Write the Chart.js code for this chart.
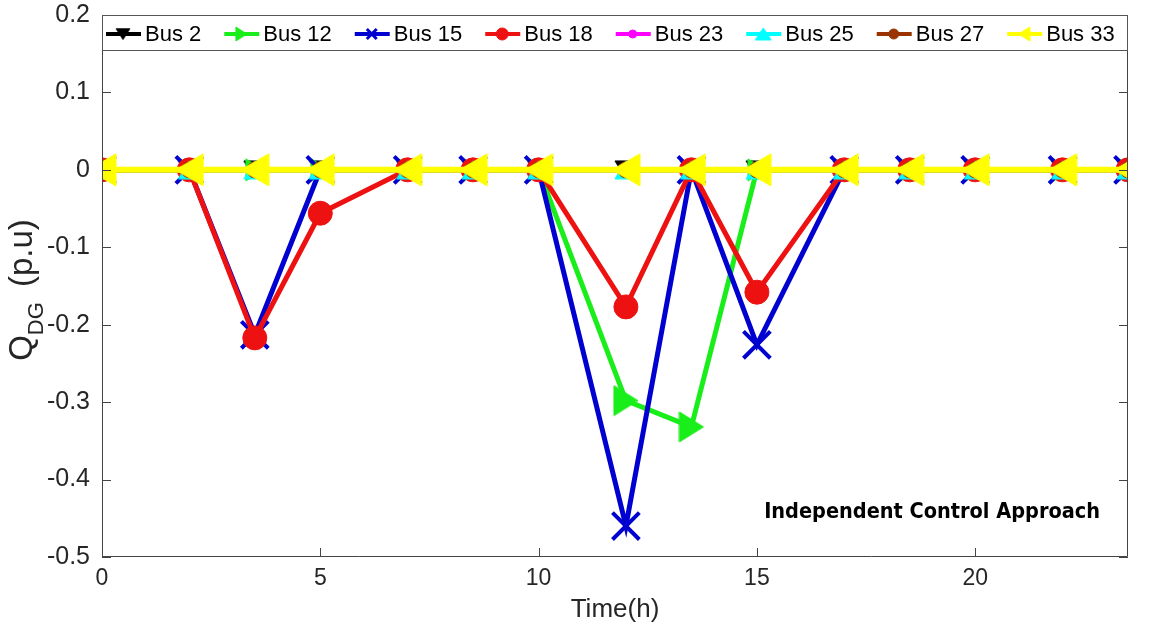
<!DOCTYPE html>
<html>
<head>
<meta charset="utf-8">
<title>Q_DG</title>
<script src="https://cdn.jsdelivr.net/npm/chart.js@4.4.1/dist/chart.umd.min.js"></script>
<style>
  html, body { margin: 0; padding: 0; background: #fff; }
  #wrap { width: 1150px; height: 625px; }
</style>
</head>
<body>
<div id="wrap"><canvas id="qdgChart" width="1150" height="625"></canvas></div>
<script>
// values
const hours = [0, 2, 3.5, 5, 7, 8.5, 10, 12, 13.5, 15, 17, 18.5, 20, 22, 23.5];
const bus2  = [0, 0, 0, 0, 0, 0, 0, 0, 0, 0, 0, 0, 0, 0, 0];
const bus12 = [0, 0, 0, 0, 0, 0, 0, -0.298, -0.332, 0, 0, 0, 0, 0, 0];
const bus15 = [0, 0, -0.213, 0, 0, 0, 0, -0.46, 0, -0.226, 0, 0, 0, 0, 0];
const bus18 = [0, 0, -0.217, -0.056, 0, 0, 0, -0.177, 0, -0.158, 0, 0, 0, 0, 0];
const bus23 = [0, 0, 0, 0, 0, 0, 0, 0, 0, 0, 0, 0, 0, 0, 0];
const bus25 = [0, 0, 0, 0, 0, 0, 0, 0, 0, 0, 0, 0, 0, 0, 0];
const bus27 = [0, 0, 0, 0, 0, 0, 0, 0, 0, 0, 0, 0, 0, 0, 0];
const bus33 = [0, 0, 0, 0, 0, 0, 0, 0, 0, 0, 0, 0, 0, 0, 0];
const seriesNames = ['Bus 2', 'Bus 12', 'Bus 15', 'Bus 18', 'Bus 23', 'Bus 25', 'Bus 27', 'Bus 33'];
const xTicks = [0, 5, 10, 15, 20];
const yTicks = [0.2, 0.1, 0, -0.1, -0.2, -0.3, -0.4, -0.5];

const allValues = [bus2, bus12, bus15, bus18, bus23, bus25, bus27, bus33];

const tickFont = '"Liberation Sans", Arial, sans-serif';
const textColor = '#262626';

function pts(ys) {
    return hours.map((h, i) => ({ x: h, y: ys[i] }));
}

// matlab-like triangle marker: triangle filling its box, box centred on the point
function triMarker(dir, w, h, color) {
    const c = document.createElement('canvas');
    c.width = w + 2;
    c.height = h + 2;
    const g = c.getContext('2d');
    g.translate(1, 1);
    g.fillStyle = color;
    g.strokeStyle = color;
    g.beginPath();
    if (dir === 'right') { g.moveTo(0, 0); g.lineTo(w, h / 2); g.lineTo(0, h); }
    if (dir === 'left')  { g.moveTo(w, 0); g.lineTo(0, h / 2); g.lineTo(w, h); }
    if (dir === 'down')  { g.moveTo(0, 0); g.lineTo(w, 0); g.lineTo(w / 2, h); }
    if (dir === 'up')    { g.moveTo(0, h); g.lineTo(w, h); g.lineTo(w / 2, 0); }
    g.closePath();
    g.fill();
    g.stroke();
    return c;
}

const colors = ['#000000', '#1aee1a', '#0000d0', '#ee1111', '#ff00ff', '#00ffff', '#993300', '#ffff00'];
const lineWidths = [5, 5, 5, 5, 5, 5, 5, 6];

// green markers sitting on the zero line are mostly hidden by the yellow ones
const greenBig = triMarker('right', 24, 30, colors[1]);
const greenSmall = triMarker('right', 18, 22, colors[1]);

const markers = [
    triMarker('down', 22, 18, colors[0]),
    (c) => (c.raw && c.raw.y === 0 ? greenSmall : greenBig),
    'crossRot',
    'circle',
    'circle',
    triMarker('up', 22, 18, colors[5]),
    'circle',
    triMarker('left', 28, 32, colors[7])
];
const legendMarkers = [
    triMarker('down', 14, 11, colors[0]),
    triMarker('right', 11, 14, colors[1]),
    'crossRot',
    'circle',
    'circle',
    triMarker('up', 16, 12, colors[5]),
    'circle',
    triMarker('left', 11, 14, colors[7])
];
const radii = [11, 12, 19, 12, 6, 11, 8, 15];
const legendRadii = [6, 6, 7, 6, 4, 6, 5, 6];
const pointBorders = [1, 1, 4, 1, 1, 1, 1, 1];

// box with inward ticks, legend box, y title and the note
const matlabLook = {
    id: 'matlabLook',
    afterDatasetsDraw(chart) {
        const { ctx, chartArea: a, scales } = chart;
        ctx.save();
        ctx.strokeStyle = '#444';
        ctx.lineWidth = 1;
        ctx.beginPath();
        ctx.rect(a.left + 0.5, a.top + 0.5, a.right - a.left - 1, a.bottom - a.top - 1);
        xTicks.forEach(t => {
            const px = Math.round(scales.x.getPixelForValue(t)) + 0.5;
            ctx.moveTo(px, a.bottom); ctx.lineTo(px, a.bottom - 9);
        });
        yTicks.forEach(t => {
            const py = Math.round(scales.y.getPixelForValue(t)) + 0.5;
            ctx.moveTo(a.left, py); ctx.lineTo(a.left + 9, py);
            ctx.moveTo(a.right, py); ctx.lineTo(a.right - 9, py);
        });
        ctx.stroke();

        // legend box along the top of the axes
        const lTop = a.top + 0.5, lH = 35;
        ctx.fillStyle = '#fff';
        ctx.fillRect(a.left + 1, lTop, a.right - a.left - 2, lH);
        ctx.strokeStyle = '#555';
        ctx.strokeRect(a.left + 0.5, lTop, a.right - a.left - 1, lH);
        ctx.font = '22px ' + tickFont;
        ctx.textBaseline = 'middle';
        ctx.textAlign = 'left';
        let lx = a.left + 4;
        const ly = lTop + lH / 2 + 1;
        chart.data.datasets.forEach((ds, i) => {
            ctx.strokeStyle = colors[i];
            ctx.fillStyle = colors[i];
            ctx.lineWidth = 4;
            ctx.beginPath();
            ctx.moveTo(lx, ly); ctx.lineTo(lx + 35, ly);
            ctx.stroke();
            const m = legendMarkers[i];
            if (typeof m === 'string') {
                ctx.lineWidth = m === 'crossRot' ? 3 : 1;
                Chart.helpers.drawPoint(ctx, {
                    pointStyle: m, rotation: 0, radius: legendRadii[i],
                    borderWidth: m === 'crossRot' ? 3 : 1
                }, lx + 17, ly);
            } else {
                ctx.drawImage(m, lx + 17 - m.width / 2, ly - m.height / 2);
            }
            ctx.fillStyle = '#000';
            ctx.fillText(ds.label, lx + 39, ly + 1);
            lx += 39 + ctx.measureText(ds.label).width + 23;
        });

        // y axis title with subscript
        ctx.fillStyle = textColor;
        ctx.translate(32, 290);
        ctx.rotate(-Math.PI / 2);
        const main = '33px ' + tickFont, sub = '22px ' + tickFont;
        const gap = 6;
        ctx.font = main;
        const wQ = ctx.measureText('Q').width;
        const wRest = ctx.measureText(' (p.u)').width;
        ctx.font = sub;
        const wSub = ctx.measureText('DG').width;
        let tx = -(wQ + wSub + gap + wRest) / 2;
        ctx.textBaseline = 'alphabetic';
        ctx.font = main;
        ctx.fillText('Q', tx, 0);
        tx += wQ;
        ctx.font = sub;
        ctx.fillText('DG', tx, 11);
        tx += wSub + gap;
        ctx.font = main;
        ctx.fillText(' (p.u)', tx, 0);
        ctx.restore();

        // annotation
        ctx.save();
        ctx.font = 'bold 21.5px "DejaVu Sans Condensed", "DejaVu Sans", sans-serif';
        ctx.fillStyle = '#000';
        ctx.textAlign = 'right';
        ctx.textBaseline = 'alphabetic';
        ctx.fillText('Independent Control Approach', 1100, 518);
        ctx.restore();
    }
};

document.addEventListener('DOMContentLoaded', (event) => {
    let ctx = document.getElementById('qdgChart').getContext('2d');
    let datasets = seriesNames.map((name, i) => ({
        label: name,
        data: pts(allValues[i]),
        borderColor: colors[i],
        backgroundColor: colors[i],
        borderWidth: lineWidths[i],
        pointStyle: markers[i],
        pointRadius: radii[i],
        pointHoverRadius: radii[i],
        pointBorderWidth: pointBorders[i],
        pointBorderColor: colors[i],
        pointBackgroundColor: colors[i],
        tension: 0,
        fill: false,
        order: seriesNames.length - 1 - i
    }));

    let qdgChart = new Chart(ctx, {
        type: 'line',
        data: { datasets: datasets },
        options: {
            responsive: false,
            animation: false,
            events: [],
            layout: {
                autoPadding: false,
                padding: { top: 15, right: 22, left: 0, bottom: 0 }
            },
            plugins: {
                legend: { display: false },
                tooltip: { enabled: false }
            },
            scales: {
                x: {
                    type: 'linear',
                    min: 0,
                    max: 23.5,
                    grid: { display: false },
                    border: { display: false },
                    afterBuildTicks: (scale) => { scale.ticks = xTicks.map(v => ({ value: v })); },
                    ticks: {
                        font: { family: tickFont, size: 23 },
                        color: textColor,
                        padding: 0,
                        maxRotation: 0,
                        callback: (v) => String(v)
                    },
                    title: {
                        display: true,
                        text: 'Time(h)',
                        font: { family: tickFont, size: 26 },
                        color: textColor,
                        padding: { top: 0, bottom: 0 }
                    },
                    afterFit: (scale) => {
                        scale.height = 68;
                        scale.paddingLeft = 0;
                        scale.paddingRight = 0;
                    }
                },
                y: {
                    min: -0.5,
                    max: 0.2,
                    grid: { display: false },
                    border: { display: false },
                    afterBuildTicks: (scale) => { scale.ticks = yTicks.map(v => ({ value: v })); },
                    ticks: {
                        font: { family: tickFont, size: 25 },
                        color: textColor,
                        padding: 4,
                        callback: (v) => String(Number(v.toFixed(1)))
                    },
                    afterFit: (scale) => {
                        scale.width = 102;
                        scale.paddingTop = 0;
                        scale.paddingBottom = 0;
                    }
                }
            }
        },
        plugins: [matlabLook]
    });
});
</script>
</body>
</html>
